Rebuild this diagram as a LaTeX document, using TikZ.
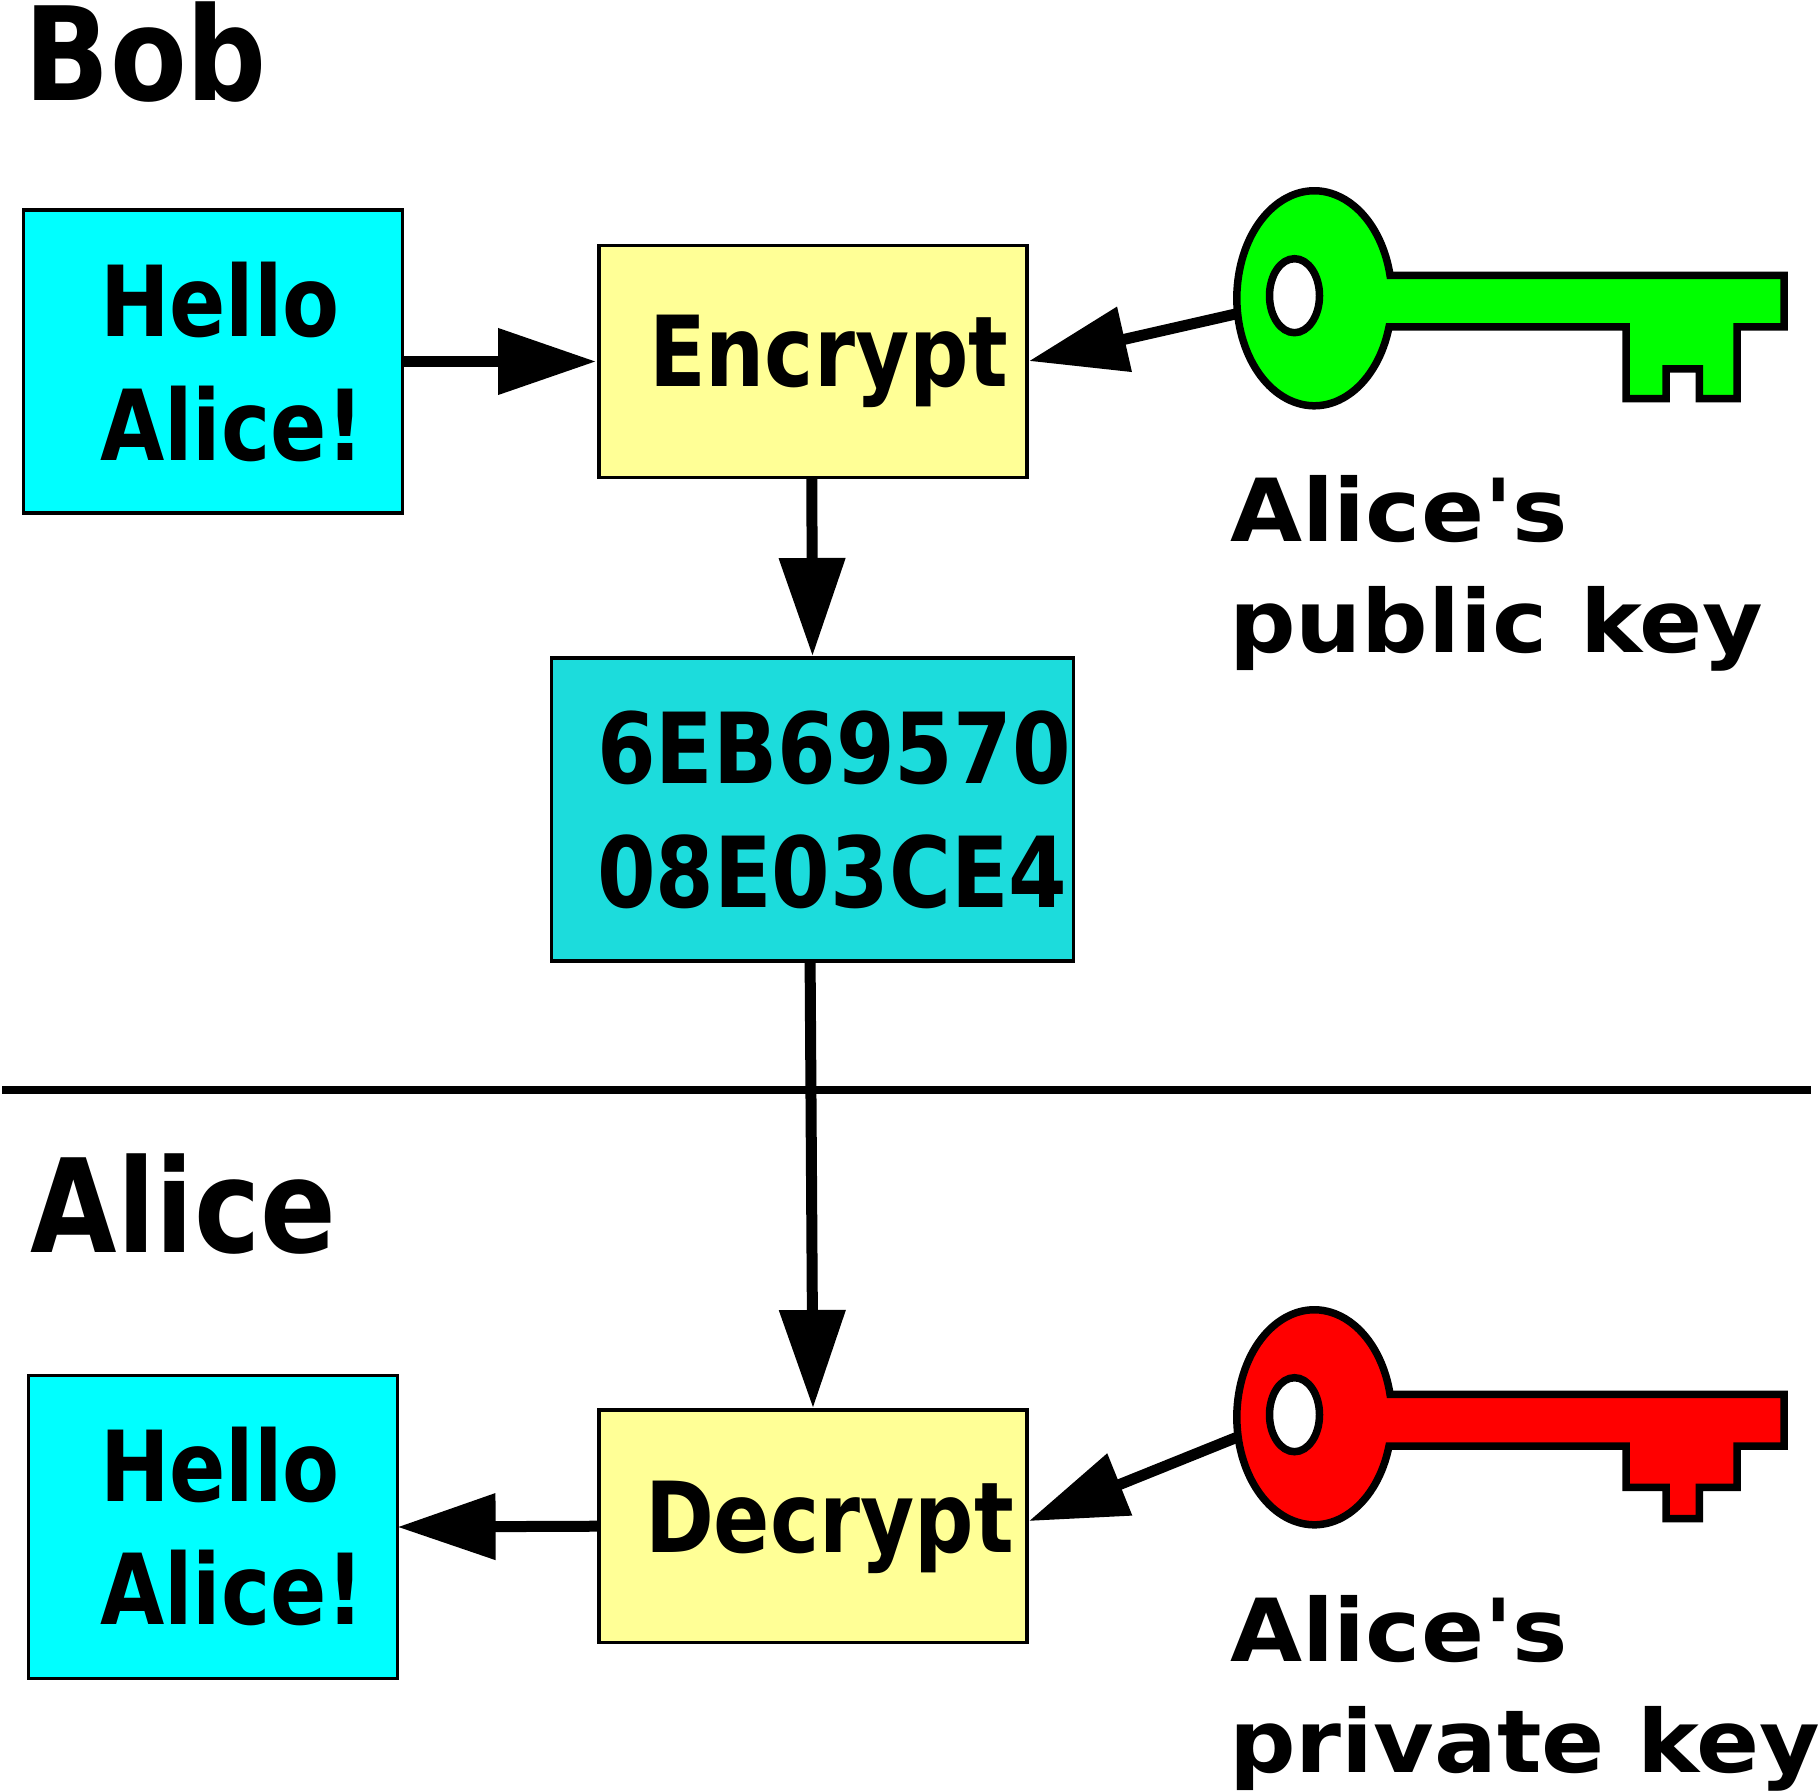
\documentclass[tikz,border=0pt]{standalone}
\usepackage{fontspec}
\usetikzlibrary{arrows.meta}
\newfontfamily\narrowfont[FakeStretch=0.848]{DejaVu Sans}
\newfontfamily\headfont[FakeStretch=0.86]{DejaVu Sans}
\newfontfamily\widefont[FakeStretch=1.07]{DejaVu Sans}
\definecolor{msgcyan}{HTML}{00FFFF}
\definecolor{ciphercyan}{HTML}{1CDCDC}
\definecolor{opyellow}{HTML}{FFFF96}
\tikzset{
msg/.style={rectangle,inner sep=0pt,outer sep=0pt,line width=1.6pt,
draw=black,fill=msgcyan},
op/.style={rectangle,inner sep=0pt,outer sep=0pt,line width=1.6pt,
minimum width=214pt,minimum height=116.2pt,draw=black,fill=opyellow},
txt/.style={anchor=base west,inner sep=0pt,outer sep=0pt},
who/.style={txt,font=\headfont\bfseries\fontsize{65pt}{65pt}\selectfont},
boxtxt/.style={txt,font=\narrowfont\bfseries\fontsize{49pt}{49pt}\selectfont},
ciphtxt/.style={txt,font=\headfont\bfseries\fontsize{49pt}{49pt}\selectfont},
keytxt/.style={txt,font=\widefont\bfseries\fontsize{43.5pt}{43.5pt}\selectfont},
flow/.style={line width=5.5pt,-{Triangle[length=49pt,width=32pt]}},
keybody/.style={line width=3.75pt,draw=black,miter limit=10}
}
\begin{document}
\begin{tikzpicture}[x=.5pt,y=-.5pt]
	\useasboundingbox (0,0) rectangle (1820,1791);

	% boxes
	\node [msg,minimum width=189.2pt,minimum height=151.5pt] (hello1) at (213,361.5) {};
	\node [op] (encrypt) at (813,361.5) {};
	\node [msg,fill=ciphercyan,minimum width=261pt,minimum height=151.5pt] (cipher) at (812.5,809.5) {};
	\node [op] (decrypt) at (813,1526.2) {};
	\node [msg,minimum width=184.2pt,minimum height=151.25pt] (hello2) at (213,1527) {};

	% free ends, under the keys
	\coordinate (pubkey) at (1240,313);
	\coordinate (privkey) at (1240,1436);
	\coordinate (lineL) at (2,1090);
	\coordinate (lineR) at (1811,1090);

	\draw [line width=3.75pt] (lineL) -- (lineR);

	\draw [flow,shorten >=1.5pt] (hello1.east) -- (encrypt.west);
	\draw [flow,shorten >=1pt] (pubkey) -- (encrypt.east);
	\draw [flow,shorten >=1pt] ([xshift=-.6pt]encrypt.south) -- (cipher.north);
	\draw [flow,shorten >=1pt] ([xshift=-1.2pt]cipher.south) -- (decrypt.north);
	\draw [flow,shorten >=1pt] (privkey) -- ([yshift=2.2pt]decrypt.east);
	\draw [flow,shorten >=.2pt] (decrypt.west) -- (hello2.east);

	% keys
	\draw [keybody,fill=green] (1389,327) arc [start angle=15.5,end angle=347.65,x radius=77.5,y radius=107.5]
		-- (1784,275.3) -- (1784,327) -- (1737,327) -- (1737,398.7) -- (1699.4,398.7) -- (1699.4,369)
		-- (1666,369) -- (1666,398.7) -- (1626,398.7) -- (1626,327) -- cycle;
	\draw [keybody,fill=white] (1294.5,295.7) ellipse [x radius=25,y radius=37];

	\draw [keybody,fill=red] (1389,1446) arc [start angle=15.5,end angle=347.65,x radius=77.5,y radius=107.5]
		-- (1784,1394.3) -- (1784,1446) -- (1737,1446) -- (1737,1487.3) -- (1699.4,1487.3) -- (1699.4,1518.7)
		-- (1666,1518.7) -- (1666,1487.3) -- (1626,1487.3) -- (1626,1446) -- cycle;
	\draw [keybody,fill=white] (1294.5,1414.7) ellipse [x radius=25,y radius=37];

	% texts
	\node [who] (bob) at (25,101) {Bob};
	\node [who] (alice) at (31,1252) {Alice};

	\node [boxtxt] (hi1a) at (100,336.6) {Hello};
	\node [boxtxt] (hi1b) at (100,461) {Alice!};
	\node [boxtxt] (enc) at (649,386.5) {Encrypt};
	\node [ciphtxt] (ciph1) at (597,783.5) {6EB69570};
	\node [ciphtxt] (ciph2) at (597,907) {08E03CE4};
	\node [boxtxt] (dec) at (645,1552) {Decrypt};
	\node [boxtxt] (hi2a) at (100,1501) {Hello};
	\node [boxtxt] (hi2b) at (100,1624) {Alice!};

	\node [keytxt] (pub1) at (1230,542) {Alice's};
	\node [keytxt] (pub2) at (1229,652) {public key};
	\node [keytxt] (priv1) at (1230,1661) {Alice's};
	\node [keytxt] (priv2) at (1229,1772) {private key};

\end{tikzpicture}
\end{document}
